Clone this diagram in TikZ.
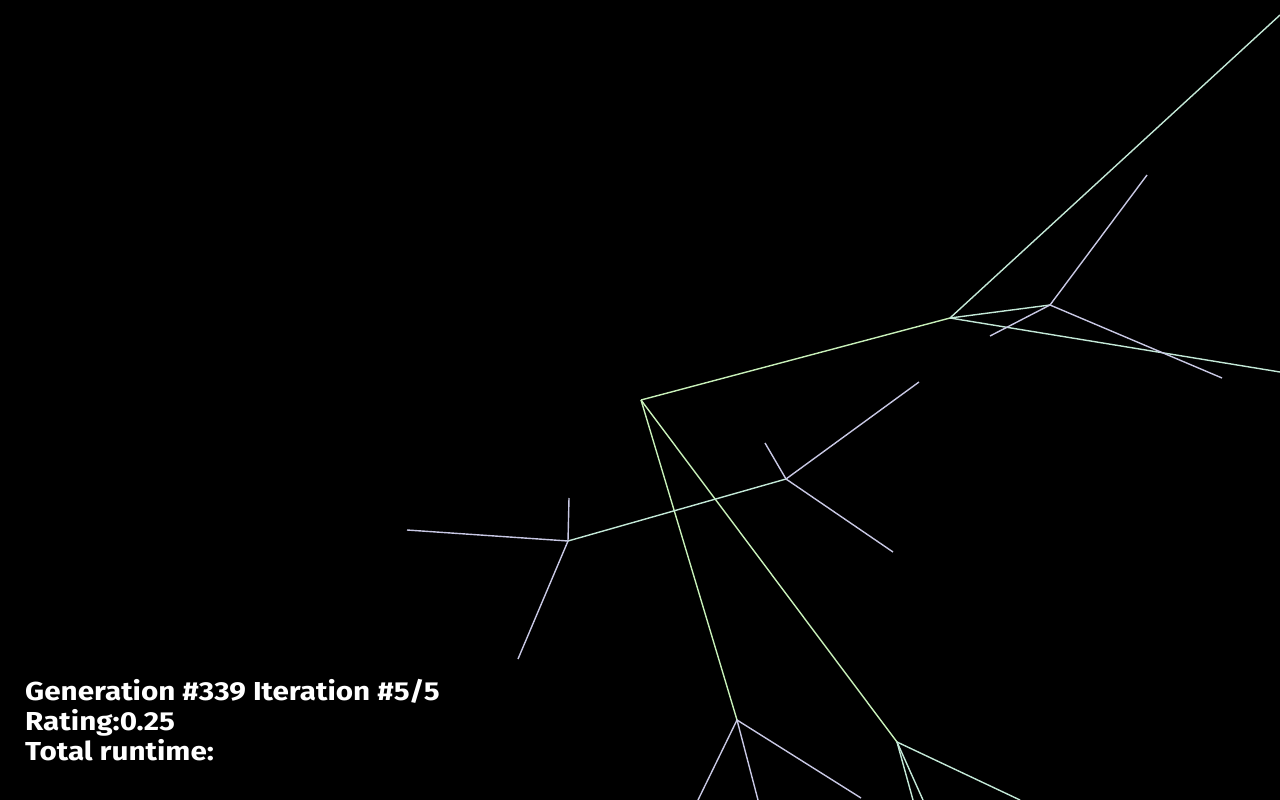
\documentclass[tikz,border=0pt]{standalone}
\usepackage{fontspec}
\newfontfamily\lblfont[FakeStretch=1.14]{Fira Sans}
\begin{document}
\begin{tikzpicture}[x=1pt,y=-1pt,
  grn/.style={draw={rgb,255:red,200;green,240;blue,185},line width=1.4pt},
  cyn/.style={draw={rgb,255:red,195;green,232;blue,215},line width=1.4pt},
  lav/.style={draw={rgb,255:red,200;green,200;blue,228},line width=1.4pt},
  lbl/.style={anchor=base west,inner sep=0pt,text=white,font=\lblfont\bfseries\fontsize{26}{30}\selectfont}]
\fill[black] (0,0) rectangle (1280,800);
\useasboundingbox (0,0) rectangle (1280,800);
% hubs
\coordinate (P0) at (641,400);
\coordinate (A) at (950,318);
\coordinate (B) at (1050,305);
\coordinate (C) at (786,479);
\coordinate (D) at (568,541);
\coordinate (E) at (737,720);
\coordinate (F) at (897,742);
% leaves
\coordinate (a1) at (1280,15);
\coordinate (a2) at (1280,372);
\coordinate (b1) at (1147,175);
\coordinate (b2) at (990,336);
\coordinate (b3) at (1222,378);
\coordinate (c1) at (919,382);
\coordinate (c2) at (765,443);
\coordinate (c3) at (893,552);
\coordinate (d1) at (407,530);
\coordinate (d2) at (569,498);
\coordinate (d3) at (518,659);
\coordinate (e1) at (698,800);
\coordinate (e2) at (758,800);
\coordinate (e3) at (861,798);
\coordinate (f1) at (913,800);
\coordinate (f2) at (923,800);
\coordinate (f3) at (1020,800);
% edges
\draw[grn] (P0) -- (A);
\draw[grn] (P0) -- (E);
\draw[grn] (P0) -- (F);
\draw[cyn] (A) -- (a1);
\draw[cyn] (A) -- (a2);
\draw[cyn] (A) -- (B);
\draw[lav] (B) -- (b1);
\draw[lav] (B) -- (b2);
\draw[lav] (B) -- (b3);
\draw[cyn] (D) -- (C);
\draw[lav] (C) -- (c1);
\draw[lav] (C) -- (c2);
\draw[lav] (C) -- (c3);
\draw[lav] (D) -- (d1);
\draw[lav] (D) -- (d2);
\draw[lav] (D) -- (d3);
\draw[lav] (E) -- (e1);
\draw[lav] (E) -- (e2);
\draw[lav] (E) -- (e3);
\draw[cyn] (F) -- (f1);
\draw[cyn] (F) -- (f2);
\draw[cyn] (F) -- (f3);
% text
\node[lbl] (t1) at (25,700) {Generation \#339 Iteration \#5/5};
\node[lbl] (t2) at (25,730) {Rating:0.25};
\node[lbl] (t3) at (25,760) {Total runtime:};
\end{tikzpicture}
\end{document}
